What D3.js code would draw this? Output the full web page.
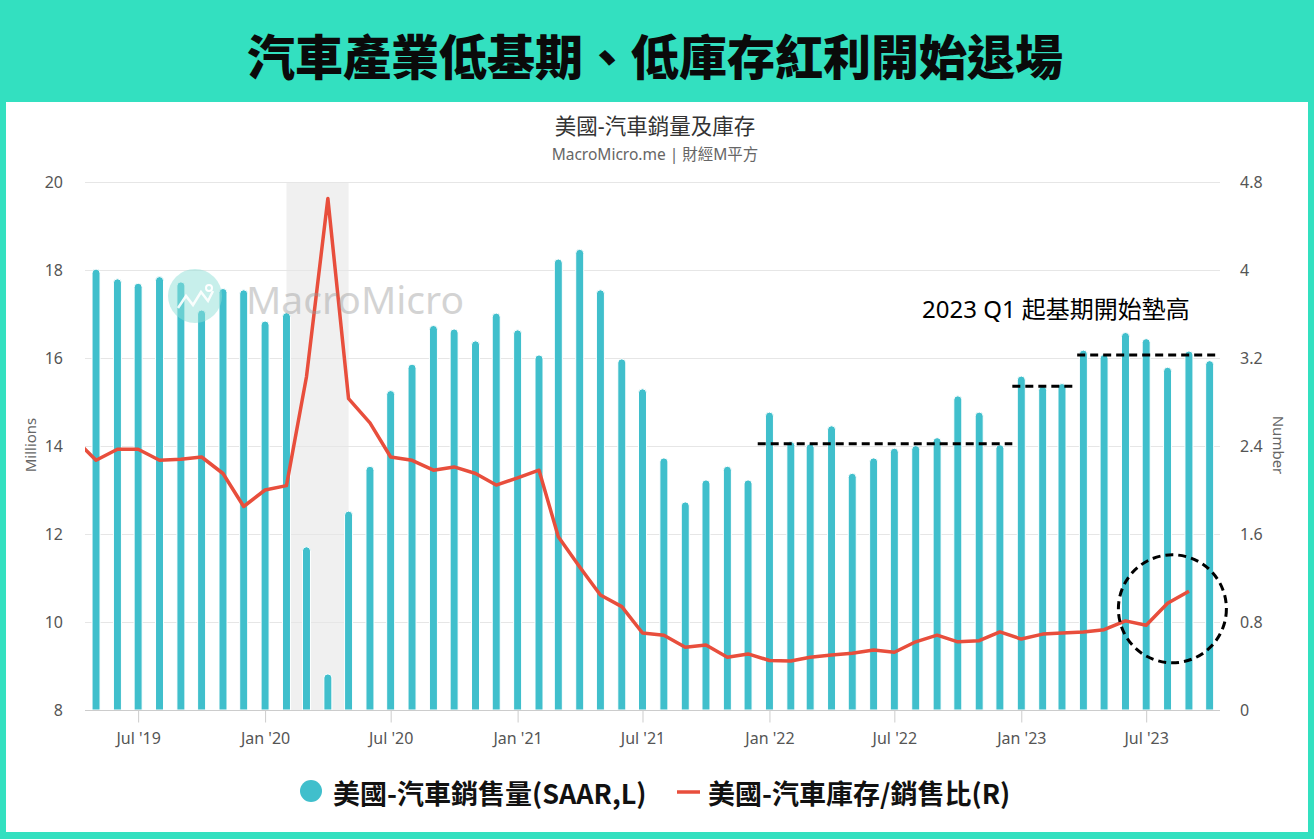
<!DOCTYPE html>
<html><head><meta charset="utf-8">
<script src="https://cdn.jsdelivr.net/npm/d3@7"></script>
<style>
html,body{margin:0;padding:0;background:#33e0c0;}
svg{display:block;}
</style>
</head><body>
<svg id="c" width="1314" height="839"></svg>
<script>
// ---------- data ----------
const months = ["2019-04","2019-05","2019-06","2019-07","2019-08","2019-09","2019-10","2019-11","2019-12",
"2020-01","2020-02","2020-03","2020-04","2020-05","2020-06","2020-07","2020-08","2020-09","2020-10","2020-11","2020-12",
"2021-01","2021-02","2021-03","2021-04","2021-05","2021-06","2021-07","2021-08","2021-09","2021-10","2021-11","2021-12",
"2022-01","2022-02","2022-03","2022-04","2022-05","2022-06","2022-07","2022-08","2022-09","2022-10","2022-11","2022-12",
"2023-01","2023-02","2023-03","2023-04","2023-05","2023-06","2023-07","2023-08","2023-09","2023-10"];
// 美國-汽車銷售量 (SAAR, millions) – left axis
const sales = [null,18.02,17.80,17.70,17.85,17.73,17.09,17.58,17.55,
16.84,17.03,11.71,8.82,12.52,13.54,15.26,15.86,16.74,16.66,16.39,17.02,
16.64,16.07,18.25,18.47,17.55,15.98,15.30,13.73,12.73,13.23,13.54,13.23,
14.77,14.10,14.05,14.46,13.38,13.73,13.95,14.01,14.19,15.14,14.77,14.03,
15.59,15.36,15.42,16.18,16.08,16.58,16.44,15.79,16.16,15.94];
// 美國-汽車庫存/銷售比 – right axis
const ratio = [2.46,2.27,2.37,2.37,2.27,2.28,2.30,2.15,1.85,
2.00,2.04,3.03,4.65,2.83,2.61,2.30,2.27,2.18,2.21,2.15,2.045,
2.11,2.18,1.575,1.30,1.045,0.94,0.70,0.68,0.57,0.59,0.48,0.51,
0.45,0.445,0.48,0.50,0.515,0.545,0.525,0.62,0.68,0.62,0.63,0.71,
0.645,0.69,0.70,0.71,0.73,0.81,0.77,0.97,1.08,null];
const leftTicks = [8,10,12,14,16,18,20];
const rightTicks = [0,0.8,1.6,2.4,3.2,4,4.8];
const xTickDates = ["2019-07-01","2020-01-01","2020-07-01","2021-01-01","2021-07-01","2022-01-01","2022-07-01","2023-01-01","2023-07-01"];
const xTickLabels = ["Jul '19","Jan '20","Jul '20","Jan '21","Jul '21","Jan '22","Jul '22","Jan '23","Jul '23"];
const xDomain = ["2019-04-15","2023-10-16"];
const recession = ["2020-02-01","2020-05-01"];
const baseFrom = ["2021-12-15","2022-12-19","2023-03-23"];
const baseTo   = ["2022-12-19","2023-03-20","2023-10-12"];
const baseVal  = [14.05,15.36,16.07];
const highlightDate = "2023-08-08", highlightVal = 0.92;
const pageTitle = "汽車產業低基期、低庫存紅利開始退場";
const chartTitle = "美國-汽車銷量及庫存";
const chartSub = "MacroMicro.me | 財經M平方";
const note = "2023 Q1 起基期開始墊高";
const seriesNames = ["美國-汽車銷售量(SAAR,L)","美國-汽車庫存/銷售比(R)"];

// ---------- drawing ----------
const svg = d3.select("#c");
const W = 1314, H = 839;
const TEAL = "#33e0c0", BAR = "#40bfcc", RED = "#e84e3c";
const CJK = "'Noto Sans CJK TC','Noto Sans CJK SC',sans-serif";
const LAT = "'Noto Sans','Noto Sans CJK TC',sans-serif";
const parse = d3.utcParse("%Y-%m-%d");
const pm = d3.utcParse("%Y-%m");

svg.append("rect").attr("width",W).attr("height",H).attr("fill",TEAL);
svg.append("rect").attr("x",6).attr("y",102).attr("width",1302).attr("height",730).attr("fill","#fff");

svg.append("text").attr("x",655).attr("y",54).attr("text-anchor","middle")
  .attr("dominant-baseline","central").attr("font-family",CJK).attr("font-weight",900)
  .attr("font-size",48).attr("fill","#0a0a0a").text(pageTitle);

svg.append("text").attr("x",655).attr("y",125).attr("text-anchor","middle").attr("dominant-baseline","central")
  .attr("font-family",LAT).attr("font-size",21.5).attr("fill","#333").text(chartTitle);
svg.append("text").attr("x",655).attr("y",154).attr("text-anchor","middle").attr("dominant-baseline","central")
  .attr("font-family",LAT).attr("font-size",15.5).attr("fill","#666").text(chartSub);

const L = 85, R = 1220, T = 182, B = 710;
const x = d3.scaleUtc().domain(xDomain.map(parse)).range([L,R]);
const yL = d3.scaleLinear().domain([8,20]).range([B,T]);
const yR = d3.scaleLinear().domain([0,4.8]).range([B,T]);

svg.append("defs").append("clipPath").attr("id","clip")
  .append("rect").attr("x",L).attr("y",T-10).attr("width",R-L).attr("height",B-T+10);

// recession band
svg.append("rect").attr("x",x(parse(recession[0]))).attr("y",T)
  .attr("width",x(parse(recession[1]))-x(parse(recession[0]))).attr("height",B-T).attr("fill","#f0f0f0");

// grid
svg.append("g").selectAll("line").data(leftTicks.slice(1)).join("line")
  .attr("x1",L).attr("x2",R).attr("y1",d=>Math.round(yL(d))+0.5).attr("y2",d=>Math.round(yL(d))+0.5)
  .attr("stroke","#e6e6e6").attr("stroke-width",1);

// axis labels
svg.append("g").selectAll("text").data(leftTicks).join("text")
  .attr("x",63).attr("y",d=>yL(d)).attr("text-anchor","end").attr("dominant-baseline","central")
  .attr("font-family",LAT).attr("font-size",16).attr("fill","#555").text(d=>d);
svg.append("g").selectAll("text").data(rightTicks).join("text")
  .attr("x",1240).attr("y",d=>yR(d)).attr("text-anchor","start").attr("dominant-baseline","central")
  .attr("font-family",LAT).attr("font-size",16).attr("fill","#555").text(d=>d);
svg.append("text").attr("transform","translate(30,445) rotate(-90)").attr("text-anchor","middle")
  .attr("dominant-baseline","central").attr("font-family",LAT).attr("font-size",15).attr("fill","#666").text("Millions");
svg.append("text").attr("transform","translate(1279,445) rotate(90)").attr("text-anchor","middle")
  .attr("dominant-baseline","central").attr("font-family",LAT).attr("font-size",15).attr("fill","#666").text("Number");

// x axis
const xAxis = d3.axisBottom(x).tickValues(xTickDates.map(parse))
  .tickFormat((d,i)=>xTickLabels[i]).tickSize(12).tickSizeOuter(0);
const gx = svg.append("g").attr("transform",`translate(0,${B+0.5})`).call(xAxis);
gx.select(".domain").attr("stroke","#ccc").attr("d",`M${L},0H${R}`);
gx.selectAll(".tick line").attr("stroke","#ccc");
gx.selectAll(".tick text").attr("font-family",LAT).attr("font-size",16).attr("fill","#555").attr("dy","1.15em");

// bars
const plot = svg.append("g").attr("clip-path","url(#clip)");
const bw = 8, r = 4;
const barData = months.map((m,i)=>({d:pm(m), v:sales[i]})).filter(d=>d.v!=null);
plot.append("g").selectAll("path").data(barData).join("path")
  .attr("d",d=>{
    const cx = x(d.d), x0 = cx-bw/2, x1 = cx+bw/2, yt = yL(d.v);
    return `M${x0},${B}V${yt+r}A${r},${r} 0 0 1 ${x1},${yt+r}V${B}Z`;
  })
  .attr("fill",BAR).attr("stroke","#fff").attr("stroke-width",1);

// watermark
const wm = svg.append("g");
wm.append("circle").attr("cx",195).attr("cy",296).attr("r",27).attr("fill","#8fdfd8").attr("opacity",0.5);
wm.append("polyline").attr("points","178,308 186,296 193,305 201,292 208,301 213,291")
  .attr("fill","none").attr("stroke","#fff").attr("stroke-width",2.5).attr("opacity",0.9);
wm.append("circle").attr("cx",209).attr("cy",288).attr("r",3).attr("fill","none").attr("stroke","#fff").attr("stroke-width",2);
wm.append("text").attr("x",246).attr("y",314).attr("font-family",LAT).attr("font-size",39)
  .attr("fill","#999").attr("opacity",0.42).text("MacroMicro");

// ratio line
const lineData = months.map((m,i)=>({d:pm(m), v:ratio[i]}));
plot.append("path").datum(lineData)
  .attr("d", d3.line().defined(d=>d.v!=null).x(d=>x(d.d)).y(d=>yR(d.v)))
  .attr("fill","none").attr("stroke",RED).attr("stroke-width",3.5).attr("stroke-linejoin","round");

// dashed base lines
const ann = svg.append("g");
baseVal.forEach((v,i)=>{
  ann.append("line").attr("x1",x(parse(baseFrom[i]))).attr("x2",x(parse(baseTo[i])))
    .attr("y1",yL(v)).attr("y2",yL(v)).attr("stroke","#000").attr("stroke-width",3).attr("stroke-dasharray","8,5");
});
ann.append("circle").attr("cx",x(parse(highlightDate))).attr("cy",yR(highlightVal)).attr("r",54)
  .attr("fill","none").attr("stroke","#000").attr("stroke-width",3).attr("stroke-dasharray","8,5");
ann.append("text").attr("x",922).attr("y",318).attr("font-family",LAT).attr("font-size",24)
  .attr("fill","#000").text(note);

// legend
const lg = svg.append("g").attr("font-family",CJK).attr("font-weight",700).attr("font-size",27).attr("fill","#111");
lg.append("circle").attr("cx",311).attr("cy",791).attr("r",11).attr("fill",BAR);
lg.append("text").attr("x",333).attr("y",792).attr("dominant-baseline","central").text(seriesNames[0]);
lg.append("line").attr("x1",677).attr("x2",700).attr("y1",792).attr("y2",792).attr("stroke",RED).attr("stroke-width",3.5);
lg.append("text").attr("x",708).attr("y",792).attr("dominant-baseline","central").text(seriesNames[1]);
</script>
</body></html>
